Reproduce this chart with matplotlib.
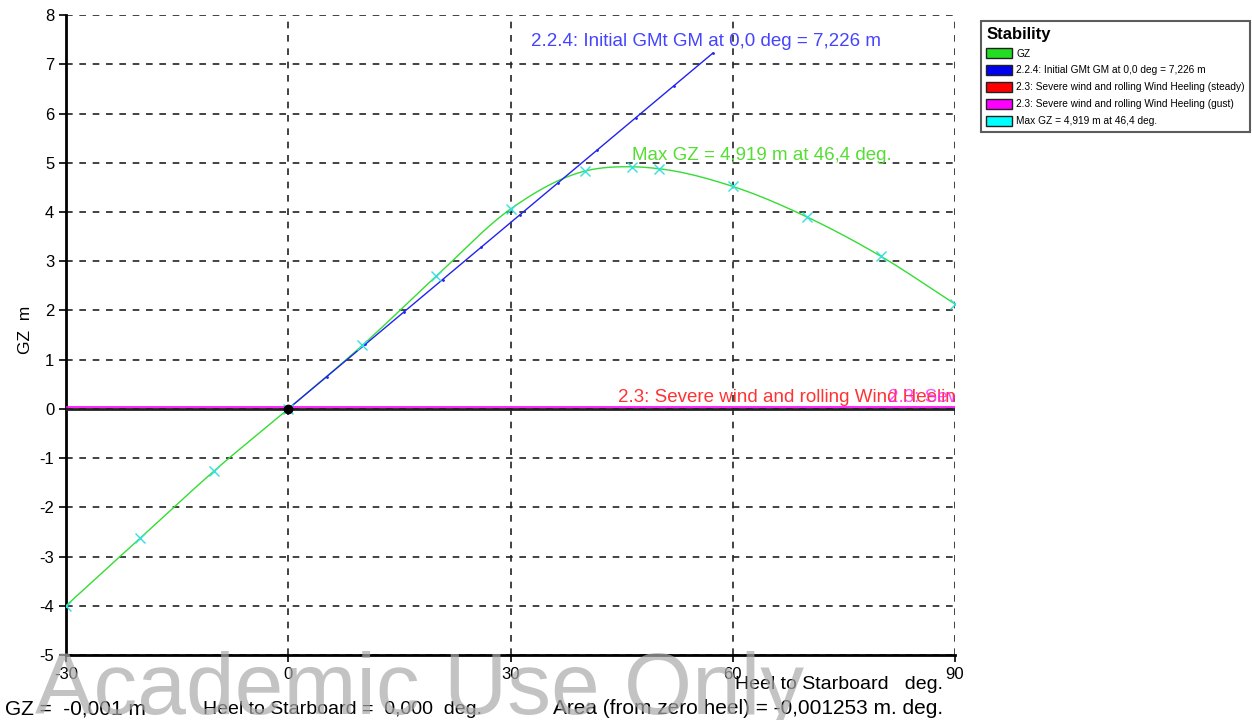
import numpy as np
import matplotlib.pyplot as plt
from matplotlib.patches import Patch

plt.rcParams['font.family'] = ['Liberation Sans', 'DejaVu Sans']
plt.rcParams['axes.unicode_minus'] = False

# GZ curve points (heel deg, GZ m)
heel = [-30, -20, -10, 0, 10, 20, 30, 40, 46.4, 50, 60, 70, 80, 90]
gz = [-4.00, -2.63, -1.26, 0.0, 1.29, 2.70, 4.06, 4.83, 4.919, 4.88, 4.52, 3.90, 3.10, 2.13]

gm = 7.226          # initial GMt
max_gz = (46.4, 4.919)


def interp_curve(x, y, xs):
    # cubic hermite through the points
    x = np.asarray(x); y = np.asarray(y)
    m = np.gradient(y, x)
    out = np.empty_like(xs)
    for i in range(len(x) - 1):
        sel = (xs >= x[i]) & (xs <= x[i + 1])
        h = x[i + 1] - x[i]
        t = (xs[sel] - x[i]) / h
        out[sel] = ((2*t**3 - 3*t**2 + 1)*y[i] + (t**3 - 2*t**2 + t)*h*m[i]
                    + (-2*t**3 + 3*t**2)*y[i+1] + (t**3 - t**2)*h*m[i+1])
    return out


fig = plt.figure(figsize=(12.52, 7.2), dpi=100)
ax = fig.add_axes([0.0527, 0.0903, 0.7101, 0.8887])

xs = np.linspace(-30, 90, 400)
ax.plot(xs, interp_curve(heel, gz, xs), color='#33dd33', lw=1.0, zorder=4)
ax.plot(heel, gz, ls='none', marker='x', color='#33e0e0', ms=7, mew=1.0, zorder=5)

# initial GM line
gm_x = np.linspace(0, np.degrees(1.0), 12)
ax.plot(gm_x, gm * gm_x / np.degrees(1.0), color='#2222ee', lw=1.0,
        marker='.', ms=2, zorder=4)

# heeling lines
ax.axhline(0, color='#222222', lw=2.0, zorder=3)
ax.axhline(0.03, color='#ff00ff', lw=1.2, zorder=3)
ax.plot(0, 0, 'o', color='black', ms=6, zorder=6)

fs = 13.5
ax.text(32.8, 7.46, '2.2.4: Initial GMt GM at 0,0 deg = 7,226 m', color='#4444ff',
        fontsize=fs, va='center')
ax.text(max_gz[0], 5.14, 'Max GZ = 4,919 m at 46,4 deg.', color='#55dd33',
        fontsize=fs, va='center')
ax.text(44.5, 0.24, '2.3: Severe wind and rolling Wind Heeling', color='#ff3333',
        fontsize=fs, va='center', clip_on=True)
ax.text(81.0, 0.24, '2.3: Severe wind and rolling Wind Heeling', color='#ff22ff',
        fontsize=fs, va='center', clip_on=True, alpha=0.8)

ax.set_xlim(-30, 90)
ax.set_ylim(-5, 8)
ax.set_xticks([-30, 0, 30, 60, 90])
ax.set_yticks(range(-5, 9))
ax.grid(True, color='#222222', ls=(0, (4, 4)), lw=1.2)
for s in ['top', 'right']:
    ax.spines[s].set_visible(False)
for s in ['left', 'bottom']:
    ax.spines[s].set_linewidth(2)
ax.tick_params(labelsize=12, length=5, width=1.2)
ax.set_ylabel('GZ  m', fontsize=12.5)
ax.yaxis.set_label_coords(-0.037, 0.508)

# legend
handles = [Patch(facecolor=c, edgecolor='#222222') for c in
           ['#22dd22', '#0000ee', '#ff0000', '#ff00ff', '#00ffff']]
labels = ['GZ', '2.2.4: Initial GMt GM at 0,0 deg = 7,226 m',
          '2.3: Severe wind and rolling Wind Heeling (steady)',
          '2.3: Severe wind and rolling Wind Heeling (gust)',
          'Max GZ = 4,919 m at 46,4 deg.']
leg = fig.legend(handles, labels, loc='upper left', bbox_to_anchor=(0.781, 0.975),
                 title='Stability', frameon=True, fontsize=7.3,
                 title_fontproperties={'size': 12, 'weight': 'bold'},
                 fancybox=False, edgecolor='#333333', alignment='left',
                 handlelength=2.5, handleheight=1.2, borderaxespad=0.3,
                 labelspacing=0.62, handletextpad=0.45, borderpad=0.55)
leg.get_frame().set_linewidth(1.5)

fig.text(0.587, 0.043, 'Heel to Starboard   deg.', fontsize=14)
fig.text(0.004, 0.008, 'GZ =  -0,001 m', fontsize=15)
fig.text(0.162, 0.008, 'Heel to Starboard =  0,000  deg.', fontsize=14)
fig.text(0.442, 0.008, 'Area (from zero heel) = -0,001253 m. deg.', fontsize=15)
fig.text(0.028, 0.008, 'Academic Use Only', fontsize=63, color='#aaaaaa',
         alpha=0.7, zorder=10)

fig.savefig('out.png', dpi=100)
